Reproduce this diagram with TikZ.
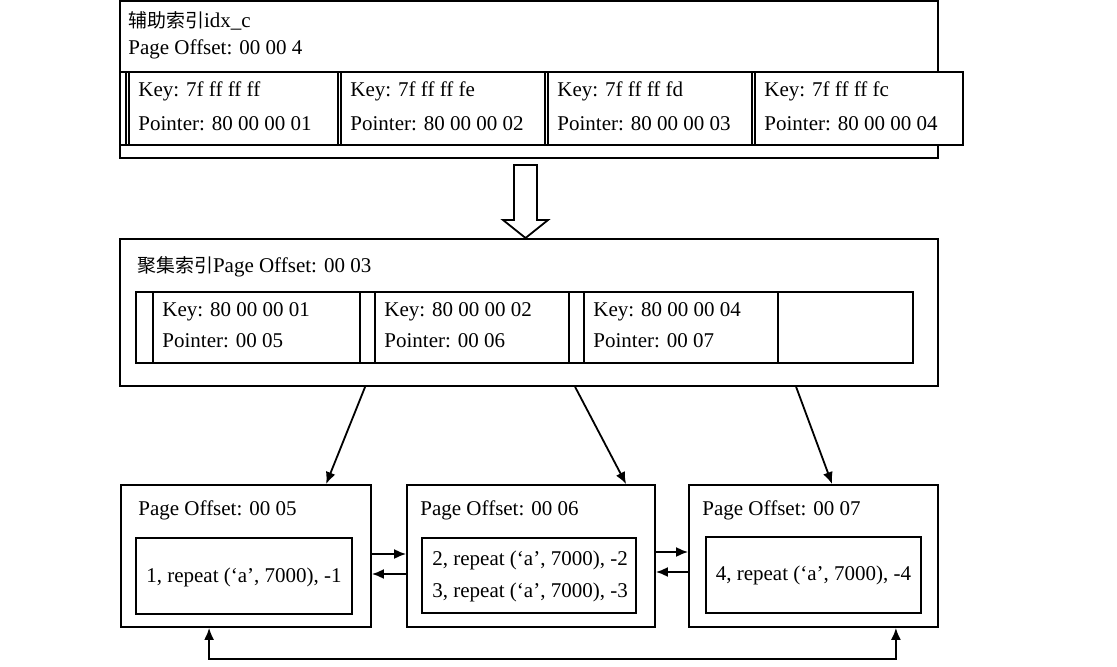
\documentclass[tikz,border=0pt]{standalone}
\usepackage{fontspec}
\setmainfont{Liberation Serif}
\newfontfamily\cjk{Noto Sans CJK SC}[Scale=0.9]
\usetikzlibrary{fit,arrows.meta}

\begin{document}
\begin{tikzpicture}[x=0.5pt,y=-0.5pt,
    every node/.style={font=\fontsize{10.5}{16}\selectfont},
    box/.style={draw,line width=0.9pt,inner sep=0pt,fill=white},
    txt/.style={anchor=base west,inner sep=0pt},
    arr/.style={line width=0.9pt,-{Latex[length=6pt,width=5pt]}},
    arrs/.style={line width=0.9pt,{Latex[length=6pt,width=5pt]}-{Latex[length=6pt,width=5pt]}}]
  \useasboundingbox (0,0) rectangle (1117,667);
  % secondary index page
  \node[box,fit={(120,1) (938,158)}] (sec) {};
  \node[txt] (sectitle) at (128,28) {{\cjk 辅助索引}idx\_c};
  \node[txt] (secoff) at (128,55) {Page Offset: 00 00 4};
  \node[box,fit={(120,72) (963,145)}] (secrow) {};
  \foreach \n/\a/\b/\k/\p in {1/126/338/ff/01,2/338/545/fe/02,3/545/752/fd/03,4/752/963/fc/04}{
    \node[box,fit={(\a,72) (\b,145)}] (k\n) {};
    \draw[line width=0.9pt] ([xshift=2pt]k\n.north west) -- ([xshift=2pt]k\n.south west);
    \node[txt] (kk\n) at (\a+12,97) {Key: 7f ff ff \k};
    \node[txt] (kp\n) at (\a+12,131) {Pointer: 80 00 00 \p};
  }
  % hollow arrow
  \draw[line width=0.9pt,fill=white] (514,165) -- (537,165) -- (537,220) -- (548,220)
    -- (525.5,238) -- (503,220) -- (514,220) -- cycle;
  % clustered index page
  \node[box,fit={(120,239) (938,386)}] (clu) {};
  \node[txt] (clutitle) at (137,273) {{\cjk 聚集索引}Page Offset: 00 03};
  \foreach \n/\a/\b/\s/\k/\p in {1/136/360/18/01/05,2/360/569/16/02/06,3/569/778/16/04/07}{
    \node[box,fit={(\a,292) (\b,363)}] (m\n) {};
    \draw[line width=0.9pt] ([xshift=\s*0.5pt]m\n.north west) -- ([xshift=\s*0.5pt]m\n.south west);
    \node[txt] (mk\n) at (\a+\s+8,317) {Key: 80 00 00 \k};
    \node[txt] (mp\n) at (\a+\s+8,348) {Pointer: 00 \p};
  }
  \node[box,fit={(778,292) (913,363)}] (m4) {};
  % leaf pages
  \node[box,fit={(121,485) (371,627)}] (pA) {};
  \node[box,fit={(407,485) (655,627)}] (pB) {};
  \node[box,fit={(689,485) (938,627)}] (pC) {};
  \node[txt] (tA) at (138,515) {Page Offset: 00 05};
  \node[txt] (tB) at (420,515) {Page Offset: 00 06};
  \node[txt] (tC) at (702,515) {Page Offset: 00 07};
  \node[box,fit={(136,538) (352,614)}] (rA) {};
  \node[box,fit={(422,538) (636,613)}] (rB) {};
  \node[box,fit={(706,537) (921,613)}] (rC) {};
  \node[anchor=base,inner sep=0pt] (xA) at (244,582) {1, repeat (‘a’, 7000), -1};
  \node[txt] (xB1) at (432,565) {2, repeat (‘a’, 7000), -2};
  \node[txt] (xB2) at (432,597) {3, repeat (‘a’, 7000), -3};
  \node[anchor=base,inner sep=0pt] (xC) at (813.5,580) {4, repeat (‘a’, 7000), -4};
  % pointers
  \draw[arr] ([shift={(246,0)}]clu.south west) -- ([shift={(206,0)}]pA.north west);
  \draw[arr] ([shift={(456,0)}]clu.south west) -- ([shift={(220,0)}]pB.north west);
  \draw[arr] ([shift={(677,0)}]clu.south west) -- ([shift={(144,0)}]pC.north west);
  \draw[arr] ([shift={(0,-2)}]pA.east) -- ([shift={(0,-2)}]pB.west);
  \draw[arr] ([shift={(0,18)}]pB.west) -- ([shift={(0,18)}]pA.east);
  \draw[arr] ([shift={(0,-4)}]pB.east) -- ([shift={(0,-4)}]pC.west);
  \draw[arr] ([shift={(0,16)}]pC.west) -- ([shift={(0,16)}]pB.east);
  \draw[arrs] ([shift={(89,0)}]pA.south west) -- ++(0,31) -| ([shift={(-43,0)}]pC.south east);
\end{tikzpicture}
\end{document}
